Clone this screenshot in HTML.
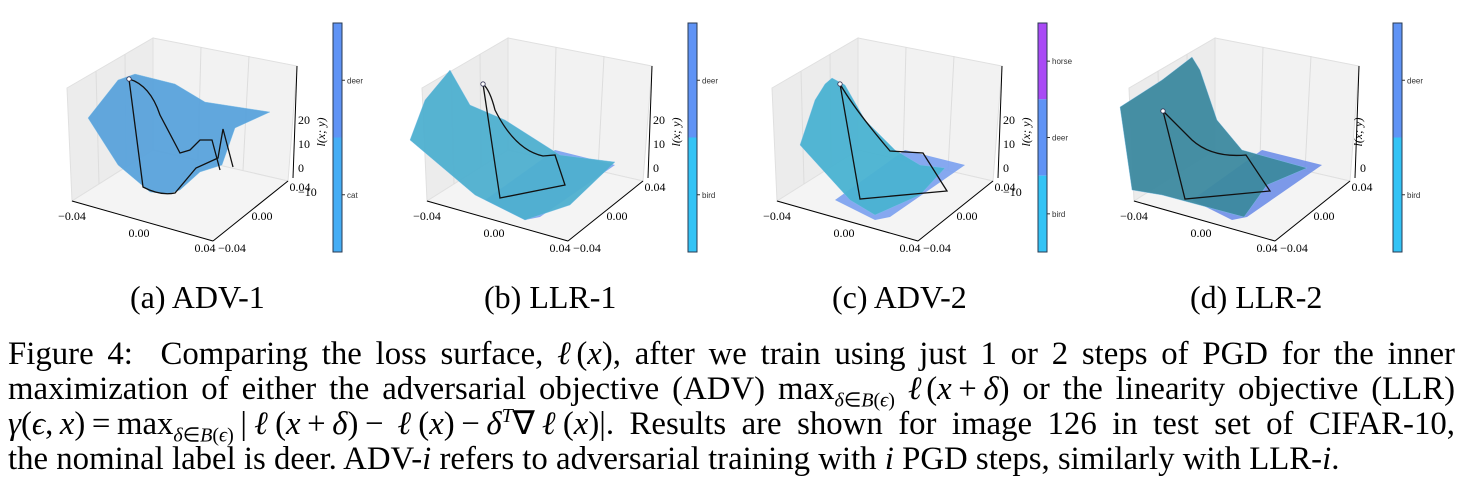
<!DOCTYPE html>
<html><head><meta charset="utf-8">
<style>
body{margin:0;background:#fff;width:1463px;height:496px;overflow:hidden;position:relative;font-family:"Liberation Serif",serif;}
svg{position:absolute;left:0;top:0}
.cap{position:absolute;font-size:32px;color:#000;white-space:nowrap;line-height:34px}
.fig{position:absolute;left:8px;width:1447px;font-size:32.8px;line-height:35px;color:#000}
.fig div{height:35px;white-space:nowrap;text-align:justify;text-align-last:justify}
.fig sub{font-size:20px;line-height:0}
.fig sup{font-size:20px;line-height:0}
</style></head><body>
<svg id="plots" width="1463" height="270"></svg>
<div class="cap" style="left:130px;top:280px">(a) ADV-1</div>
<div class="cap" style="left:484px;top:280px">(b) LLR-1</div>
<div class="cap" style="left:832px;top:280px">(c) ADV-2</div>
<div class="cap" style="left:1190px;top:280px">(d) LLR-2</div>
<div class="fig" style="top:337px">
<div>Figure 4:&nbsp; Comparing the loss surface, <i>ℓ</i>(<i>x</i>), after we train using just 1 or 2 steps of PGD for the inner</div>
<div>maximization of either the adversarial objective (ADV) max<sub><i>δ</i>∈<i>B</i>(<i>ϵ</i>)</sub> <i>ℓ</i>(<i>x</i>&#8201;+&#8201;<i>δ</i>) or the linearity objective (LLR)</div>
<div><i>γ</i>(<i>ϵ</i>,&#8201;<i>x</i>)&#8201;=&#8201;max<sub><i>δ</i>∈<i>B</i>(<i>ϵ</i>)</sub>&#8201;|<i>ℓ</i>(<i>x</i>&#8201;+&#8201;<i>δ</i>)&#8201;−&#8201;<i>ℓ</i>(<i>x</i>)&#8201;−&#8201;<i>δ</i><sup><i>T</i></sup>∇<i>ℓ</i>(<i>x</i>)|. Results are shown for image 126 in test set of CIFAR-10,</div>
<div style="text-align-last:left">the nominal label is deer. ADV-<i>i</i> refers to adversarial training with <i>i</i> PGD steps, similarly with LLR-<i>i</i>.</div>
</div>
<script>
const panelNames=['adv-1','llr-1','adv-2','llr-2'];
const offsets=[0,355,705,1062];
const xTicks=['−0.04','0.00','0.04'];
const yTicks=['−0.04','0.00','0.04'];
const zTicksA=['20','10','0','−10'];
const cbLabels=[['deer','cat'],['deer','bird'],['horse','deer','bird'],['deer','bird']];
const cbColors=[['#5f93f5','#45adf5'],['#5f93f5','#33c3f5'],['#a94af5','#5f93f5','#33c3f5'],['#5f93f5','#33c3f5']];
const NS='http://www.w3.org/2000/svg';
const svg=document.getElementById('plots');
function mk(tag,attrs,parent){const e=document.createElementNS(NS,tag);for(const k in attrs)e.setAttribute(k,attrs[k]);(parent||svg).appendChild(e);return e;}
const surfaces=[
 {fill:'#5aa3dc',pts:'88,118 118,80 135,74 175,84 205,102 270,112 235,128 222,165 200,172 180,190 168,194 150,192 118,165',
  path:'M129,79 L143,187 Q160,196 175,193 L196,168 L218,158 L223,129 L233,167 M129,79 Q150,85 160,115 L180,153 L190,150 L200,140 L212,140 L220,170'},
 {fill:'#4fb0d0',pts:'55,140 70,100 85,82 95,70 115,105 150,120 205,155 260,162 215,205 170,220 120,195',
  path:'M128,84 L145,198 L210,185 L200,155 L188,156 Q160,150 140,110 Q135,90 128,84',floor:'#7aa0f0'},
 {fill:'#4ab3d2',pts:'95,145 110,100 120,84 127,78 140,85 160,120 190,150 215,165 240,168 215,195 170,215 145,200',
  path:'M135,84 L155,199 L242,191 L218,153 L185,151 Q150,110 135,84',floor:'#7aa0f0'},
 {fill:'#3d8aa0',pts:'58,107 100,80 130,57 138,70 155,120 180,150 245,168 205,185 182,217 100,195 70,190',
  path:'M101,111 L123,199 L208,191 L184,155 Q150,158 130,140 Q115,125 101,111',floor:'#6f8fe8'}
];
panelNames.forEach((nm,i)=>{
 const g=mk('g',{transform:'translate('+offsets[i]+',0)'});
 
 
 mk('polygon',{points:'67,88 153,38 153,150 72,201',fill:'#ececec',stroke:'#e0e0e0'},g);
 mk('polygon',{points:'153,38 297,66 288,181 153,150',fill:'#f2f2f2',stroke:'#e0e0e0'},g);
 mk('polygon',{points:'72,201 153,150 288,181 213,241',fill:'#f4f4f4',stroke:'#e0e0e0'},g);
 for(let k=1;k<3;k++){mk('line',{x1:67+k*29,y1:88-k*17,x2:72+k*27,y2:201-k*17,stroke:'#ddd'},g);mk('line',{x1:153+k*48,y1:38+k*9,x2:153+k*45,y2:150+k*10,stroke:'#ddd'},g);}
 const s=surfaces[i];
 if(s.floor){mk('polygon',{points:'130,200 170,220 185,217 260,165 200,150',fill:s.floor,opacity:0.9},g);}
 const surf=mk('polygon',{points:s.pts,fill:s.fill,stroke:'#7fc0ea','stroke-width':0.4,opacity:0.95},g);
 
 
 const p=mk('path',{d:s.path,fill:'none',stroke:'#111','stroke-width':1.3},g);
 
 
 const nums=s.path.split(/[ML, ]/).filter(x=>x);
 mk('circle',{cx:nums[0],cy:nums[1],r:2.2,fill:'#fff',stroke:'#335',"stroke-width":0.8},g);
 mk('line',{x1:72,y1:201,x2:213,y2:241,stroke:'#000'},g);
 mk('line',{x1:213,y1:241,x2:288,y2:181,stroke:'#000'},g);
 mk('line',{x1:297,y1:66,x2:293,y2:178,stroke:'#000'},g);
 const xt=[[72,220],[139,237],[205,252]];
 xTicks.forEach((t,j)=>{const e=mk('text',{x:xt[j][0],y:xt[j][1],'font-size':12,'text-anchor':'middle','font-family':'Liberation Serif,serif'},g);e.textContent=t;
  });
 const yt=[[232,252],[262,220],[300,191]];
 yTicks.forEach((t,j)=>{const e=mk('text',{x:yt[j][0],y:yt[j][1],'font-size':12,'text-anchor':'middle','font-family':'Liberation Serif,serif'},g);e.textContent=t;
  });
 const zs=(i==3)?['0']:zTicksA, zy=(i==3)?[172]:[124,148,172,196];
 zs.forEach((t,j)=>{if(i==1&&j==3)return;const e=mk('text',{x:298,y:zy[j],'font-size':12,'font-family':'Liberation Serif,serif'},g);e.textContent=t;
  });
 const zl=mk('text',{x:0,y:0,'font-size':12,'font-style':'italic','font-family':'Liberation Serif,serif',transform:'translate('+(i==3?300:325)+',132) rotate(-90)','text-anchor':'middle'},g);zl.textContent='l(x; y)';
 
 const cols=cbColors[i], n=cols.length, top=23, h=229;
 const cbx=(i==3)?331:333;
 cols.forEach((c,j)=>{mk('rect',{x:cbx,y:top+h*j/n,width:9,height:h/n,fill:c},g);});
 const fr=mk('rect',{x:cbx,y:top,width:9,height:h,fill:'none',stroke:'#2a3a50','stroke-width':1},g);
 
 cbLabels[i].forEach((t,j)=>{const yy=top+h*(j+0.5)/n;mk('line',{x1:cbx+9,y1:yy,x2:cbx+12,y2:yy,stroke:'#333'},g);
  const e=mk('text',{x:cbx+14,y:yy+3,'font-size':8,fill:'#333','font-family':'Liberation Sans,sans-serif'},g);e.textContent=t;
  });
});
</script>
</body></html>
